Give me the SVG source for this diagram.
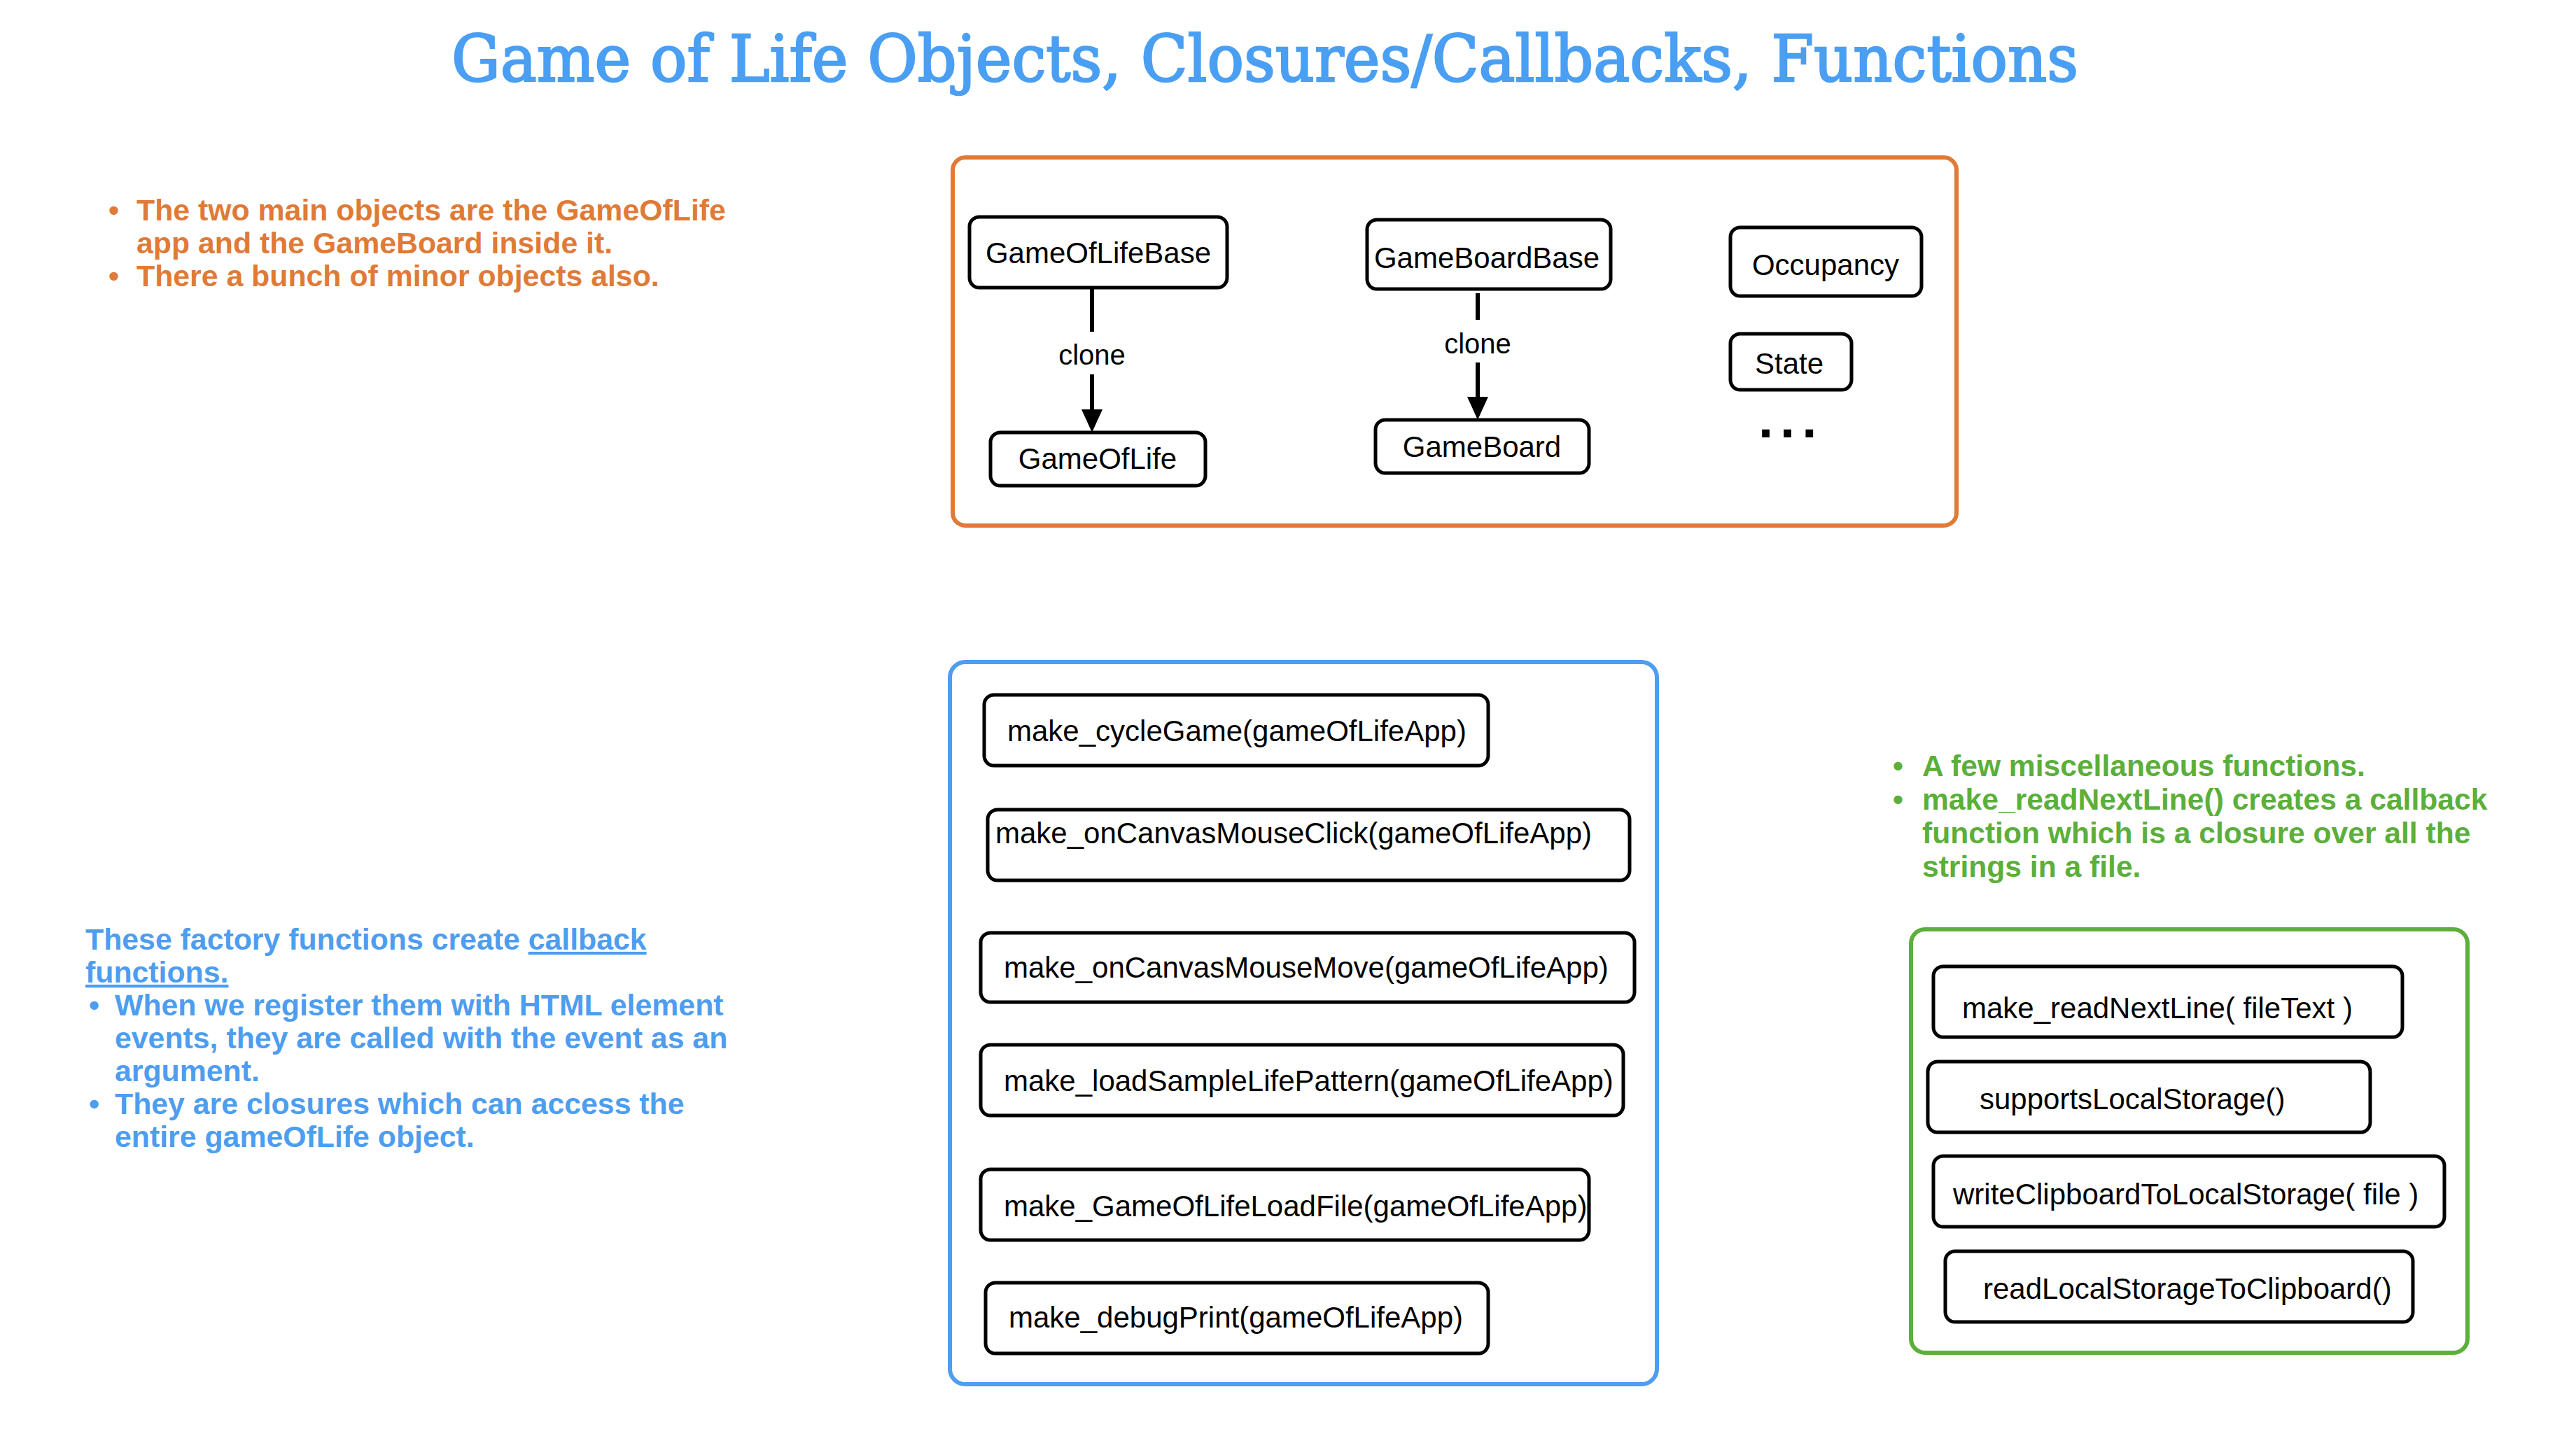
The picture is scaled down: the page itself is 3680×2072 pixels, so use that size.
<svg xmlns="http://www.w3.org/2000/svg" width="3680" height="2072" viewBox="0 0 3680 2072">
<style>
.bg{fill:#ffffff}
.node rect{fill:#ffffff;stroke:#000000;stroke-width:5}
.node text{font-family:"Liberation Sans",Arial,sans-serif;font-size:42px;fill:#000000}
.ctr{text-anchor:middle}
.frame{fill:none;stroke-width:6}
.otxt{font-family:"Liberation Sans",Arial,sans-serif;font-weight:bold;font-size:42.8px;fill:#E07A36}
.btxt{font-family:"Liberation Sans",Arial,sans-serif;font-weight:bold;font-size:42.8px;fill:#4D9DF0}
.gtxt{font-family:"Liberation Sans",Arial,sans-serif;font-weight:bold;font-size:42.6px;fill:#5BAF3A}
.edge{stroke:#000000;stroke-width:6;fill:none}
.elabel{font-family:"Liberation Sans",Arial,sans-serif;font-size:40px;fill:#000000;text-anchor:middle}
</style>
<defs>
<marker id="arrow" markerUnits="userSpaceOnUse" markerWidth="34" markerHeight="32" refX="0" refY="16" orient="auto">
<path d="M0,1 L33,16 L0,31 z" fill="#000000"/>
</marker>
</defs>
<rect class="bg" x="0" y="0" width="3680" height="2072"/>

<text id="title" x="1807" y="116" text-anchor="middle" font-family="DejaVu Serif, serif" font-size="92" fill="#4A9FF2" stroke="#4A9FF2" stroke-width="2.5" textLength="2324" lengthAdjust="spacingAndGlyphs">Game of Life Objects, Closures/Callbacks, Functions</text>

<g id="objects-notes">
<text class="otxt" x="155" y="315">•</text><text class="otxt" x="195" y="315">The two main objects are the GameOfLife</text>
<text class="otxt" x="195" y="362">app and the GameBoard inside it.</text>
<text class="otxt" x="155" y="409">•</text><text class="otxt" x="195" y="409">There a bunch of minor objects also.</text>
</g>

<g id="callback-notes">
<text class="btxt" x="122" y="1357">These factory functions create <tspan text-decoration="underline">callback</tspan></text>
<text class="btxt" x="122" y="1404" text-decoration="underline">functions.</text>
<text class="btxt" x="127" y="1451">•</text><text class="btxt" x="164" y="1451">When we register them with HTML element</text>
<text class="btxt" x="164" y="1498">events, they are called with the event as an</text>
<text class="btxt" x="164" y="1545">argument.</text>
<text class="btxt" x="127" y="1592">•</text><text class="btxt" x="164" y="1592">They are closures which can access the</text>
<text class="btxt" x="164" y="1639">entire gameOfLife object.</text>
</g>

<g id="misc-notes">
<text class="gtxt" x="2704" y="1109">•</text><text class="gtxt" x="2746" y="1109">A few miscellaneous functions.</text>
<text class="gtxt" x="2704" y="1157">•</text><text class="gtxt" x="2746" y="1157">make_readNextLine() creates a callback</text>
<text class="gtxt" x="2746" y="1205">function which is a closure over all the</text>
<text class="gtxt" x="2746" y="1253">strings in a file.</text>
</g>

<g id="objects-frame"><rect class="frame" x="1361" y="225" width="1434" height="526" rx="18" stroke="#E07A36"/></g>
<g id="callbacks-frame"><rect class="frame" x="1357" y="946" width="1010" height="1032" rx="22" stroke="#4D9DF0"/></g>
<g id="misc-frame"><rect class="frame" x="2730" y="1328" width="795" height="605" rx="20" stroke="#5BAF3A"/></g>

<g id="connectors">
<line class="edge" x1="1560" y1="411" x2="1560" y2="474"/>
<line class="edge" x1="1560" y1="535" x2="1560" y2="585" marker-end="url(#arrow)"/>
<text class="elabel" x="1560" y="521">clone</text>
<line class="edge" x1="2111" y1="419" x2="2111" y2="457"/>
<line class="edge" x1="2111" y1="518" x2="2111" y2="567" marker-end="url(#arrow)"/>
<text class="elabel" x="2111" y="505">clone</text>
</g>

<g id="GameOfLifeBase" class="node"><rect x="1385" y="310" width="368" height="101" rx="14"/><text class="ctr" x="1569" y="376">GameOfLifeBase</text></g>
<g id="GameOfLife" class="node"><rect x="1415" y="618" width="307" height="76" rx="14"/><text class="ctr" x="1568" y="670">GameOfLife</text></g>
<g id="GameBoardBase" class="node"><rect x="1953" y="314" width="348" height="99" rx="14"/><text class="ctr" x="2124" y="383">GameBoardBase</text></g>
<g id="GameBoard" class="node"><rect x="1965" y="600" width="305" height="76" rx="14"/><text class="ctr" x="2117" y="653">GameBoard</text></g>
<g id="Occupancy" class="node"><rect x="2472" y="325" width="273" height="98" rx="14"/><text class="ctr" x="2608" y="393">Occupancy</text></g>
<g id="State" class="node"><rect x="2472" y="477" width="173" height="80" rx="14"/><text class="ctr" x="2556" y="534">State</text></g>
<g id="more-objects"><text x="2512" y="625" font-family="Liberation Sans, Arial, sans-serif" font-weight="bold" font-size="76" letter-spacing="10">...</text></g>

<g id="make_cycleGame" class="node"><rect x="1406" y="993" width="720" height="101" rx="14"/><text x="1439" y="1059">make_cycleGame(gameOfLifeApp)</text></g>
<g id="make_onCanvasMouseClick" class="node"><rect x="1411" y="1157" width="917" height="101" rx="14"/><text x="1422" y="1205">make_onCanvasMouseClick(gameOfLifeApp)</text></g>
<g id="make_onCanvasMouseMove" class="node"><rect x="1401" y="1333" width="934" height="99" rx="14"/><text x="1434" y="1397">make_onCanvasMouseMove(gameOfLifeApp)</text></g>
<g id="make_loadSampleLifePattern" class="node"><rect x="1401" y="1493" width="918" height="101" rx="14"/><text x="1434" y="1559">make_loadSampleLifePattern(gameOfLifeApp)</text></g>
<g id="make_GameOfLifeLoadFile" class="node"><rect x="1401" y="1671" width="869" height="101" rx="14"/><text x="1434" y="1738">make_GameOfLifeLoadFile(gameOfLifeApp)</text></g>
<g id="make_debugPrint" class="node"><rect x="1408" y="1833" width="718" height="101" rx="14"/><text x="1441" y="1897">make_debugPrint(gameOfLifeApp)</text></g>

<g id="make_readNextLine" class="node"><rect x="2762" y="1381" width="670" height="101" rx="14"/><text x="2803" y="1455">make_readNextLine( fileText )</text></g>
<g id="supportsLocalStorage" class="node"><rect x="2754" y="1517" width="632" height="101" rx="14"/><text x="2828" y="1585">supportsLocalStorage()</text></g>
<g id="writeClipboardToLocalStorage" class="node"><rect x="2762" y="1652" width="730" height="101" rx="14"/><text x="2790" y="1721">writeClipboardToLocalStorage( file )</text></g>
<g id="readLocalStorageToClipboard" class="node"><rect x="2779" y="1788" width="668" height="101" rx="14"/><text x="2833" y="1856">readLocalStorageToClipboard()</text></g>
</svg>
